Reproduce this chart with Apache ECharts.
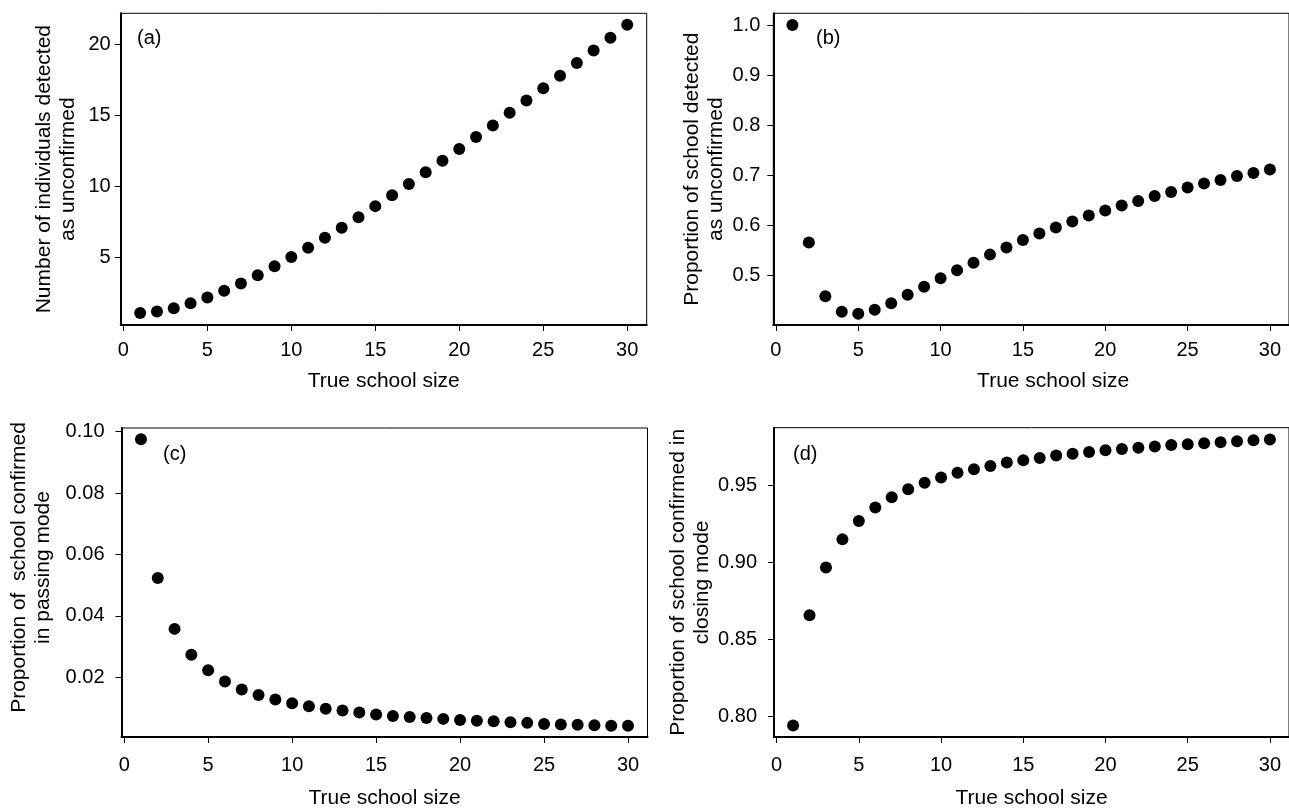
<!DOCTYPE html>
<html><head><meta charset="utf-8">
<script src="https://cdn.jsdelivr.net/npm/echarts@6/dist/echarts.min.js"></script>
<style>html,body{margin:0;padding:0;background:#fff}#c{width:1289px;height:810px}</style>
</head><body><div id="c"></div>
<script>
const schoolSize = [1,2,3,4,5,6,7,8,9,10,11,12,13,14,15,16,17,18,19,20,21,22,23,24,25,26,27,28,29,30];
const detectedUnconfirmed = [1.04,1.16,1.39,1.74,2.14,2.61,3.13,3.71,4.35,5.00,5.66,6.36,7.07,7.81,8.59,9.36,10.16,10.98,11.80,12.62,13.47,14.28,15.18,16.04,16.91,17.80,18.69,19.58,20.47,21.39];
const propUnconfirmed = [1.000,0.566,0.459,0.428,0.424,0.432,0.445,0.462,0.478,0.495,0.511,0.526,0.542,0.556,0.571,0.584,0.596,0.608,0.620,0.630,0.640,0.649,0.659,0.667,0.676,0.684,0.691,0.699,0.705,0.712];
const propPassing = [0.0975,0.0524,0.0358,0.0274,0.0223,0.0187,0.0161,0.0143,0.0128,0.0116,0.0106,0.0098,0.0092,0.0086,0.0079,0.0074,0.0071,0.0068,0.0065,0.0061,0.0059,0.0057,0.0054,0.0052,0.0048,0.0047,0.0046,0.0044,0.0043,0.0043];
const propClosing = [0.7940,0.8657,0.8967,0.9149,0.9269,0.9356,0.9423,0.9474,0.9517,0.9551,0.9581,0.9605,0.9626,0.9648,0.9662,0.9677,0.9693,0.9705,0.9716,0.9727,0.9735,0.9744,0.9752,0.9761,0.9767,0.9773,0.9780,0.9786,0.9793,0.9797];
const xTicks = [0,5,10,15,20,25,30];
const yTicksA = [5,10,15,20];
const yTicksB = [0.5,0.6,0.7,0.8,0.9,1.0];
const yTicksC = [0.02,0.04,0.06,0.08,0.10];
const yTicksD = [0.80,0.85,0.90,0.95];
const xTitle = 'True school size';
const yTitles = [
  'Number of individuals detected\nas unconfirmed',
  'Proportion of school detected\nas unconfirmed',
  'Proportion of  school confirmed\nin passing mode',
  'Proportion of school confirmed in\nclosing mode'
];
const panelLabels = ['(a)','(b)','(c)','(d)'];

const FONT = '"Liberation Sans", Arial, sans-serif';
const panels = [
  {vals: detectedUnconfirmed, ticks: yTicksA, dec: 0, ymin: 0.2, ymax: 22.2,
   grid: {left: 120.7, top: 13.3, width: 526, height: 311.7}, yGap: 40, yPad: 0, yLabMargin: 10,
   xLabMargin: 15, xGap: 46, xPad: 0, lab: {left: 137, top: 28}},
  {vals: propUnconfirmed, ticks: yTicksB, dec: 1, ymin: 0.4016, ymax: 1.0234,
   grid: {left: 773.3, top: 13.3, width: 526, height: 311.7}, yGap: 45, yPad: 0, yLabMargin: 13,
   xLabMargin: 15, xGap: 46, xPad: 44, lab: {left: 816, top: 28}},
  {vals: propPassing, ticks: yTicksC, dec: 2, ymin: 0.0006, ymax: 0.1012,
   grid: {left: 121.5, top: 428, width: 526, height: 311}, yGap: 66, yPad: 30, yLabMargin: 17,
   xLabMargin: 18, xGap: 51, xPad: 0, lab: {left: 163, top: 444}},
  {vals: propClosing, ticks: yTicksD, dec: 2, ymin: 0.7866, ymax: 0.9874,
   grid: {left: 774, top: 427.7, width: 526, height: 312}, yGap: 60, yPad: 0, yLabMargin: 17,
   xLabMargin: 18, xGap: 51, xPad: 0, lab: {left: 793, top: 444}}
];

const chart = echarts.init(document.getElementById('c'), null, {renderer: 'canvas'});
const option = {
  animation: false,
  backgroundColor: '#fff',
  title: panels.map((p, i) => ({
    text: panelLabels[i], left: p.lab.left, top: p.lab.top, padding: 0,
    textStyle: {fontFamily: FONT, fontSize: 20, fontWeight: 'normal', color: '#000'}
  })),
  grid: panels.map(p => Object.assign({show: true, borderColor: '#000', borderWidth: 1, containLabel: false}, p.grid)),
  xAxis: panels.map((p, i) => ({
    type: 'value', gridIndex: i, min: -0.16, max: 31.16,
    splitLine: {show: false},
    axisLine: {show: true, onZero: false, lineStyle: {color: '#000', width: 2}},
    axisTick: {show: true, customValues: xTicks, length: 6, lineStyle: {color: '#000', width: 1}},
    axisLabel: {customValues: xTicks, margin: p.xLabMargin, fontSize: 20, fontFamily: FONT, color: '#000'},
    name: xTitle, nameLocation: 'middle', nameGap: p.xGap,
    nameTextStyle: {fontSize: 21, fontFamily: FONT, color: '#000', padding: [0, 0, 0, p.xPad]}
  })),
  yAxis: panels.map((p, i) => ({
    type: 'value', gridIndex: i, min: p.ymin, max: p.ymax,
    splitLine: {show: false},
    axisLine: {show: true, onZero: false, lineStyle: {color: '#000', width: 2}},
    axisTick: {show: true, customValues: p.ticks, length: 6, lineStyle: {color: '#000', width: 1}},
    axisLabel: {customValues: p.ticks, margin: p.yLabMargin, fontSize: 20, fontFamily: FONT, color: '#000',
      formatter: v => Number(v).toFixed(p.dec)},
    name: yTitles[i], nameLocation: 'middle', nameGap: p.yGap,
    nameTextStyle: {fontSize: 21, fontFamily: FONT, color: '#000', lineHeight: 24,
      padding: [0, 0, 0, p.yPad]}
  })),
  series: panels.map((p, i) => ({
    type: 'scatter', xAxisIndex: i, yAxisIndex: i,
    symbol: 'circle', symbolSize: 12,
    itemStyle: {color: '#000', opacity: 1},
    data: schoolSize.map((x, k) => [x, p.vals[k]])
  }))
};
chart.setOption(option);
</script></body></html>
